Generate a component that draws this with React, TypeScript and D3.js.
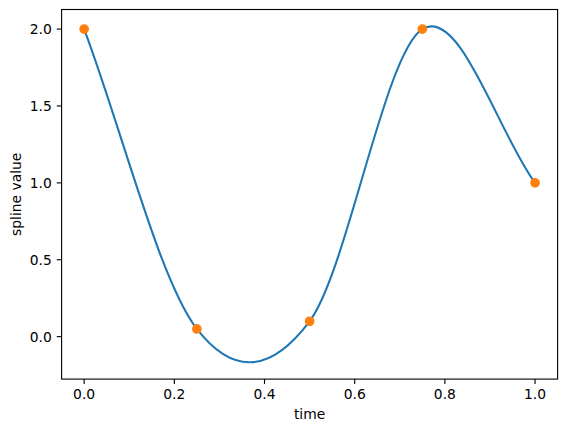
import React from "react";
import * as d3 from "d3";

// Data (knots of the spline)
const times: number[] = [0, 0.25, 0.5, 0.75, 1.0];
const splineValues: number[] = [2.0, 0.05, 0.1, 2.0, 1.0];
const xTickValues: number[] = [0.0, 0.2, 0.4, 0.6, 0.8, 1.0];
const yTickValues: number[] = [0.0, 0.5, 1.0, 1.5, 2.0];
const xLabel = "time";
const yLabel = "spline value";

const W = 567;
const H = 432;
const plot = { left: 61.6, top: 9.5, width: 496, height: 369.6 };
const FONT = "'DejaVu Sans', sans-serif";
const FS = 13.89;
const TICK = 4.86;
const PAD = 4.86;

// Hermite slopes (central differences inside, one-sided at the ends)
function slopes(x: number[], y: number[]): number[] {
  const n = x.length;
  return x.map((_, i) => {
    if (i === 0) return (y[1] - y[0]) / (x[1] - x[0]);
    if (i === n - 1) return (y[n - 1] - y[n - 2]) / (x[n - 1] - x[n - 2]);
    return (y[i + 1] - y[i - 1]) / (x[i + 1] - x[i - 1]);
  });
}

function hermite(y0: number, y1: number, m0: number, m1: number, h: number, s: number) {
  const s2 = s * s, s3 = s2 * s;
  return (2 * s3 - 3 * s2 + 1) * y0 + (s3 - 2 * s2 + s) * h * m0 + (-2 * s3 + 3 * s2) * y1 + (s3 - s2) * h * m1;
}

export default function App() {
  const m = slopes(times, splineValues);
  // extent of the curve for autoscaling
  let lo = Infinity, hi = -Infinity;
  for (let i = 0; i < times.length - 1; i++) {
    const h = times[i + 1] - times[i];
    for (let k = 0; k <= 200; k++) {
      const v = hermite(splineValues[i], splineValues[i + 1], m[i], m[i + 1], h, k / 200);
      lo = Math.min(lo, v);
      hi = Math.max(hi, v);
    }
  }
  const yr = hi - lo;
  const xMin = d3.min(times)!, xMax = d3.max(times)!;
  const xr = xMax - xMin;

  const x = d3.scaleLinear().domain([xMin - 0.05 * xr, xMax + 0.05 * xr]).range([plot.left, plot.left + plot.width]);
  const y = d3.scaleLinear().domain([lo - 0.05 * yr, hi + 0.05 * yr]).range([plot.top + plot.height, plot.top]);

  const p = d3.path();
  p.moveTo(x(times[0]), y(splineValues[0]));
  for (let i = 0; i < times.length - 1; i++) {
    const h = times[i + 1] - times[i];
    p.bezierCurveTo(
      x(times[i] + h / 3), y(splineValues[i] + (h * m[i]) / 3),
      x(times[i + 1] - h / 3), y(splineValues[i + 1] - (h * m[i + 1]) / 3),
      x(times[i + 1]), y(splineValues[i + 1])
    );
  }

  const bottom = plot.top + plot.height;

  return (
    <svg width={W} height={H} style={{ position: "absolute", left: 0, top: 0, background: "#fff" }} fontFamily={FONT}>
      <rect x={0} y={0} width={W} height={H} fill="#fff" />
      <path d={p.toString()} fill="none" stroke="#1f77b4" strokeWidth={2.08} strokeLinecap="square" />
      {times.map((t, i) => (
        <circle key={i} cx={x(t)} cy={y(splineValues[i])} r={4.17} fill="#ff7f0e" stroke="#ff7f0e" strokeWidth={1.39} />
      ))}
      <rect x={plot.left} y={plot.top} width={plot.width} height={plot.height} fill="none" stroke="#000" strokeWidth={1.11} />
      {xTickValues.map((t) => (
        <g key={"x" + t}>
          <line x1={x(t)} x2={x(t)} y1={bottom} y2={bottom + TICK} stroke="#000" strokeWidth={1.11} />
          <text x={x(t)} y={bottom + TICK + PAD + 10.6} textAnchor="middle" fontSize={FS} fill="#000">
            {t.toFixed(1)}
          </text>
        </g>
      ))}
      {yTickValues.map((t) => (
        <g key={"y" + t}>
          <line x1={plot.left - TICK} x2={plot.left} y1={y(t)} y2={y(t)} stroke="#000" strokeWidth={1.11} />
          <text x={plot.left - TICK - PAD} y={y(t) + 5.1} textAnchor="end" fontSize={FS} fill="#000">
            {t.toFixed(1)}
          </text>
        </g>
      ))}
      <text x={plot.left + plot.width / 2} y={419} textAnchor="middle" fontSize={FS} fill="#000">
        {xLabel}
      </text>
      <text
        transform={`translate(21,${plot.top + plot.height / 2}) rotate(-90)`}
        textAnchor="middle"
        fontSize={FS}
        fill="#000"
      >
        {yLabel}
      </text>
    </svg>
  );
}
